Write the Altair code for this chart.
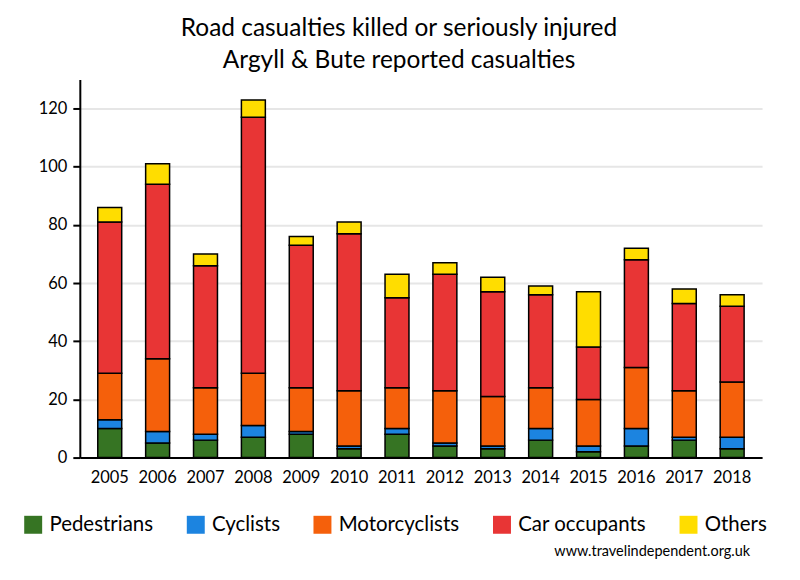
import altair as alt
import pandas as pd

years = [str(y) for y in range(2005, 2019)]
categories = ["Pedestrians", "Cyclists", "Motorcyclists", "Car occupants", "Others"]
pedestrians = [10, 5, 6, 7, 8, 3, 8, 4, 3, 6, 2, 4, 6, 3]
cyclists = [3, 4, 2, 4, 1, 1, 2, 1, 1, 4, 2, 6, 1, 4]
motorcyclists = [16, 25, 16, 18, 15, 19, 14, 18, 17, 14, 16, 21, 16, 19]
car_occupants = [52, 60, 42, 88, 49, 54, 31, 40, 36, 32, 18, 37, 30, 26]
others = [5, 7, 4, 6, 3, 4, 8, 4, 5, 3, 19, 4, 5, 4]
colors = ["#367423", "#1c84e0", "#f5600b", "#e83535", "#ffdd00"]
y_ticks = [0, 20, 40, 60, 80, 100, 120]
title_lines = ["Road casualties killed or seriously injured", "Argyll & Bute reported casualties"]
source_text = "www.travelindependent.org.uk"

FONT = "Lato"

series = [pedestrians, cyclists, motorcyclists, car_occupants, others]
rows = []
for i, yr in enumerate(years):
    for k, (cat, vals) in enumerate(zip(categories, series)):
        rows.append({"year": yr, "category": cat, "value": vals[i], "order": k})
df = pd.DataFrame(rows)

bars = alt.Chart(df).mark_bar(stroke="black", strokeWidth=1.5).encode(
    x=alt.X(
        "year:N", sort=years, title=None,
        scale=alt.Scale(paddingInner=0.5, paddingOuter=0.375),
        axis=alt.Axis(labelAngle=0, ticks=False, grid=False, labelPadding=12,
                      labelFontSize=16.5, labelFont=FONT, labelColor="black",
                      domainColor="black", domainWidth=2),
    ),
    y=alt.Y(
        "value:Q", stack="zero", title=None,
        scale=alt.Scale(domain=[0, 130], nice=False),
        axis=alt.Axis(values=y_ticks, grid=True, gridColor="#e6e6e6", gridWidth=2,
                      tickSize=7, tickColor="black", tickWidth=2, labelPadding=6,
                      labelFontSize=16.5, labelFont=FONT, labelColor="black",
                      domainColor="black", domainWidth=2),
    ),
    color=alt.Color(
        "category:N", sort=categories,
        scale=alt.Scale(domain=categories, range=colors),
        legend=alt.Legend(title=None, orient="none", legendX=-57, legendY=436,
                          direction="horizontal", symbolType="square", symbolSize=324,
                          symbolStrokeWidth=0, symbolOpacity=1, labelFont=FONT,
                          labelFontSize=20.5, labelColor="black", labelOffset=6,
                          columnPadding=32, padding=0, labelLimit=300),
    ),
    order=alt.Order("order:Q", sort="ascending"),
)

source = alt.Chart(pd.DataFrame({"t": [source_text]})).mark_text(
    align="right", baseline="middle", font=FONT, fontSize=14.5, color="black"
).encode(text="t:N", x=alt.value(672), y=alt.value(474))

chart = alt.layer(bars, source).properties(
    width=684, height=379,
    title=alt.TitleParams(text=title_lines, font=FONT, fontSize=24.5, fontWeight="normal",
                          color="black", anchor="middle", frame="group", dx=-22,
                          offset=6, lineHeight=32),
    autosize=alt.AutoSizeParams(type="none"),
    padding={"left": 72, "top": 71, "right": 30, "bottom": 115},
).configure_view(stroke=None)

chart.save("out.html", embed_options={"renderer": "svg", "actions": False})
